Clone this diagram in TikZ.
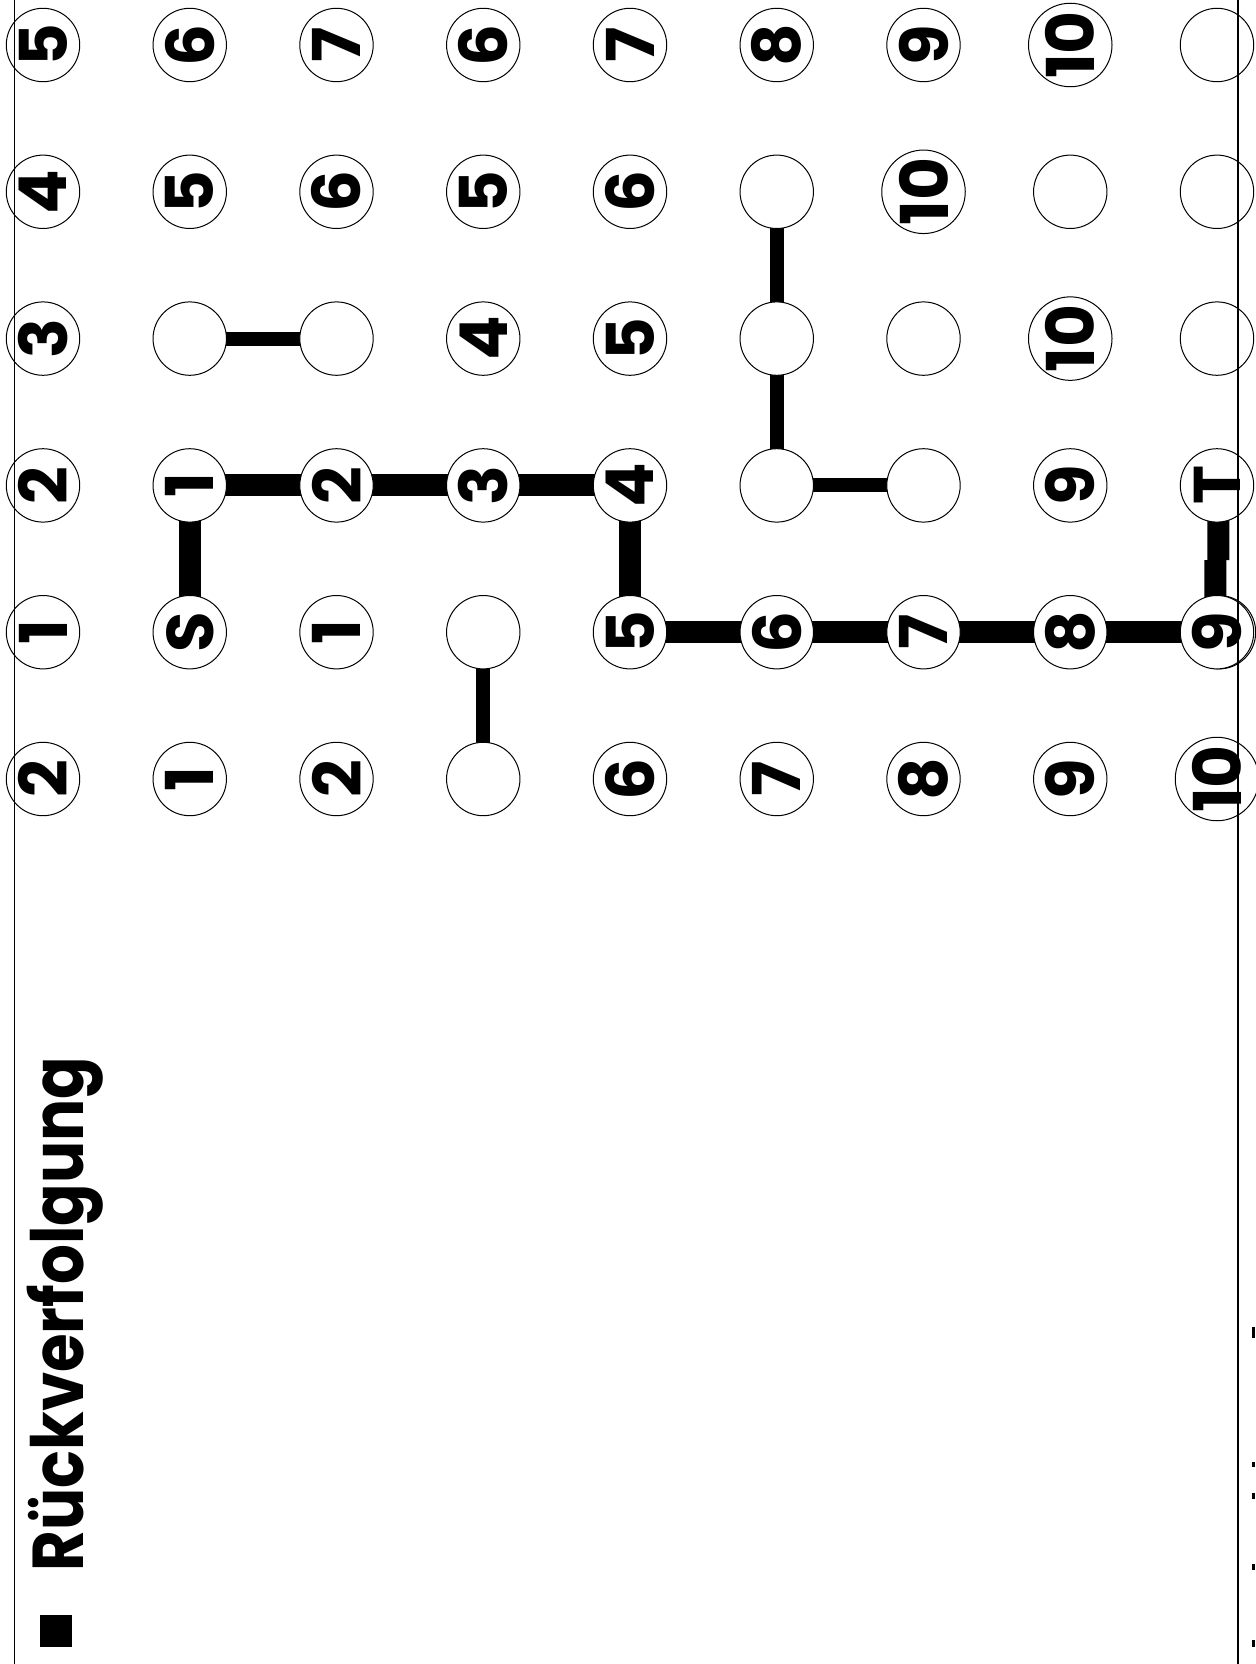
\documentclass[tikz,border=0pt]{standalone}
\usepackage{fontspec}
\setmainfont{Poppins}
\usetikzlibrary{backgrounds}
\newcommand\zahlfont{\bfseries\fontsize{33}{33}\selectfont}
\newcommand\titelfont{\bfseries\fontsize{36}{36}\selectfont}

\begin{document}
\begin{tikzpicture}[x=0.5pt,y=-0.5pt,
  feld/.style={circle,draw,line width=0.5pt,fill=white,minimum size=36.7pt,inner sep=0pt,rotate=90,font=\zahlfont},
  weg/.style={line width=11pt},
  ast/.style={line width=7pt},
  rand/.style={line width=0.6pt}]
\useasboundingbox (0,0) rectangle (1255,1664);
%
% Felder, Zeile fuer Zeile (leer = noch nicht erreicht)
%
\foreach \zeile/\liste in {0/{5,6,7,6,7,8,9,10,{}},
                           1/{4,5,6,5,6,{},10,{},{}},
                           2/{3,{},{},4,5,{},{},10,{}},
                           3/{2,1,2,3,4,{},{},9,T},
                           4/{1,S,1,{},5,6,7,8,9},
                           5/{2,1,2,{},6,7,8,9,10}}
  \foreach \lab [count=\c from 0] in \liste
    \node[feld] (f\c-\zeile) at ({43+146.75*\c},{45+146.8*\zeile}) {\lab};
%
% Verbindungen liegen hinter den Feldern
\begin{scope}[on background layer]
  % doppelte Kontur bei Feld 9
  \draw[line width=0.5pt] ([xshift=1pt]f8-4.center) circle[radius=18.35pt];
  % Reste der Wellenausbreitung
  \draw[ast] (f1-2.center) -- (f2-2.center);
  \draw[ast] (f5-1.center) -- (f5-2.center) -- (f5-3.center) -- (f6-3.center);
  \draw[ast] (f3-4.center) -- (f3-5.center);
  % Rueckverfolgter Weg von S nach T
  \draw[weg] (f1-4.center) -- (f1-3.center) -- (f2-3.center) -- (f3-3.center)
    -- (f4-3.center) -- (f4-4.center) -- (f5-4.center) -- (f6-4.center)
    -- (f7-4.center) -- (f8-4.center);
  \coordinate (knick) at (1216.75,560);
  \draw[weg] ([xshift=-0.75pt]f8-4.center) -- ([xshift=-0.75pt]knick);
  \draw[weg] ([xshift=0.75pt]knick) -- ([xshift=0.75pt]f8-3.center);
\end{scope}
%
% Seitenraender
\draw[rand] (14.7,0) -- (14.7,1664);
\draw[rand] (1238,0) -- (1238,1664);
% abgeschnittene Reste am rechten Rand
\foreach \ya/\yb in {1327/1338,1462/1467,1493/1499,1564/1570,1640/1647}
  \fill (1252,\ya) rectangle (1255,\yb);
%
% Ueberschrift
\fill (40,1615) rectangle (72,1647);
\node[font=\titelfont,anchor=base west,rotate=90,inner sep=0pt] (titel) at (83,1572) {\scalebox{0.87}[1]{Rückverfolgung}};
\end{tikzpicture}
\end{document}
